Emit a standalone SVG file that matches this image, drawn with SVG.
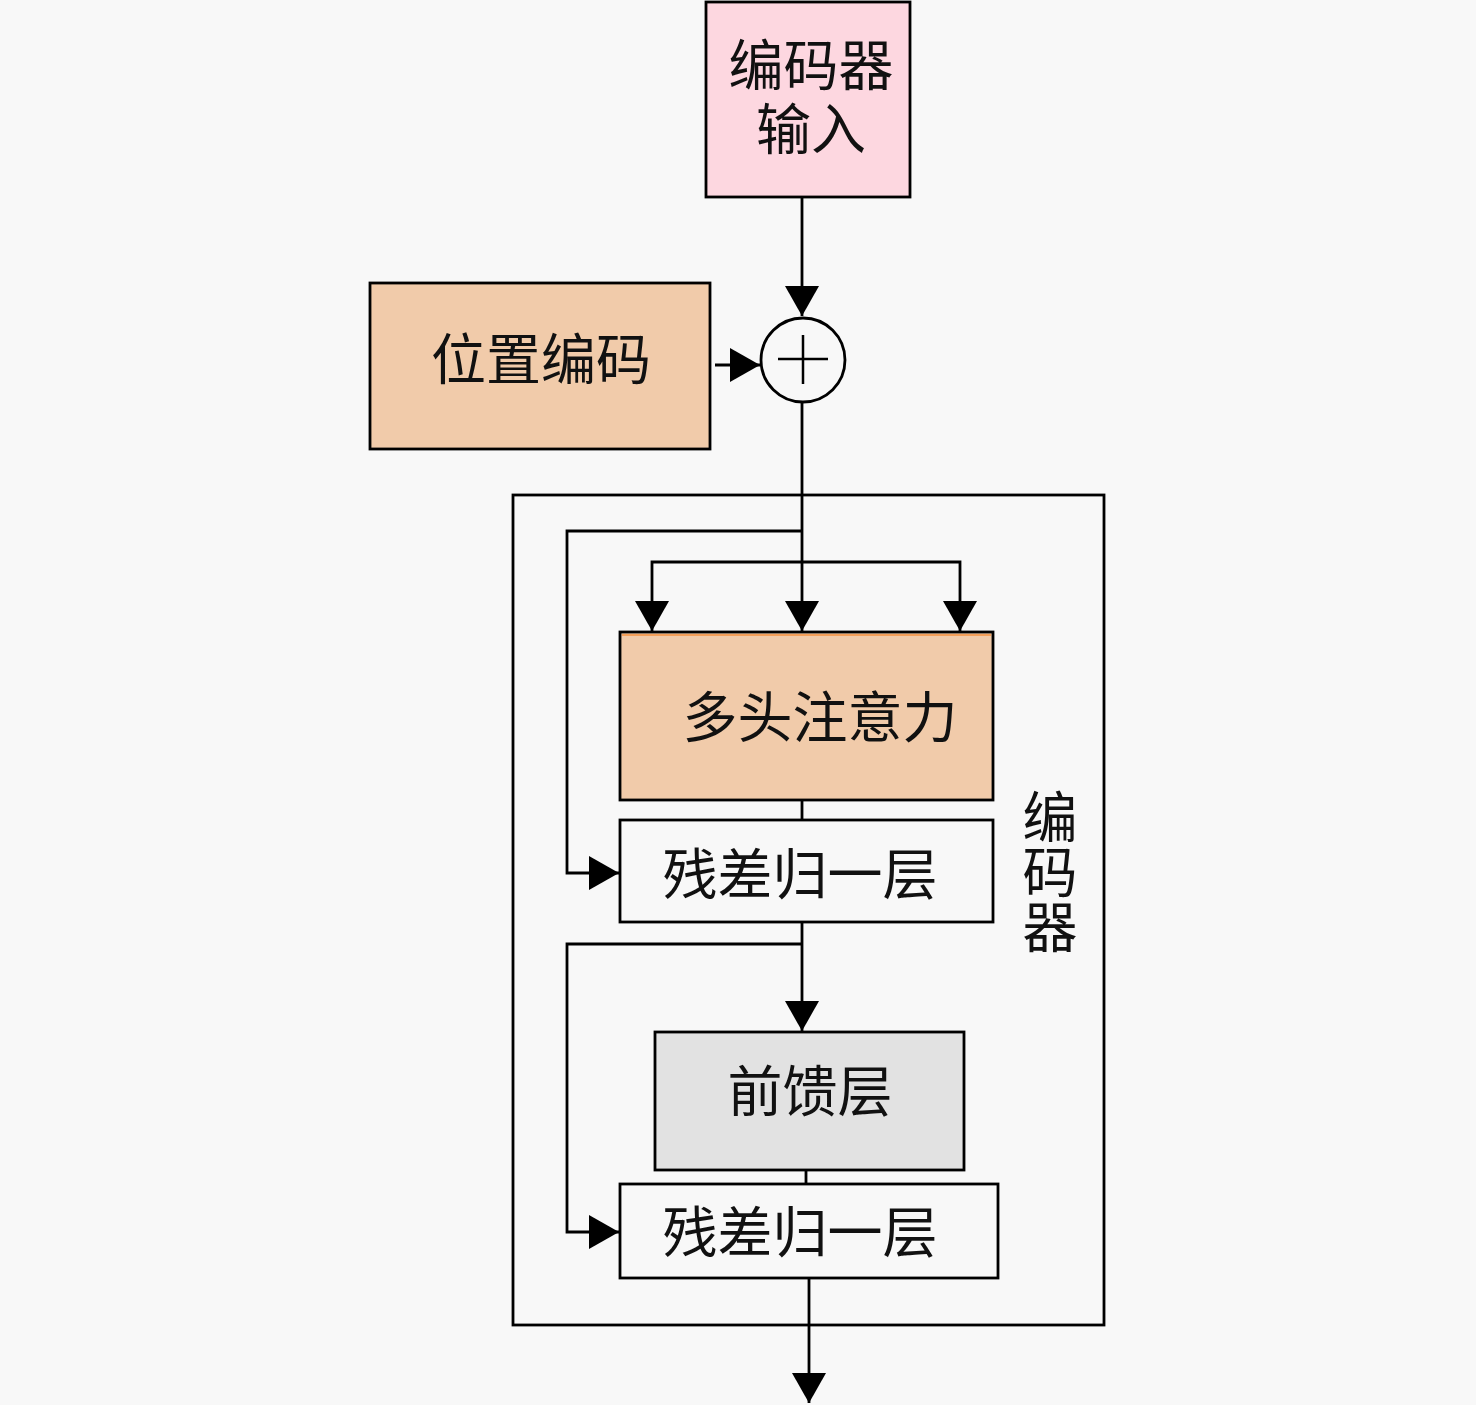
<svg xmlns="http://www.w3.org/2000/svg" width="1476" height="1405" viewBox="0 0 1476 1405">
<defs>
<marker id="ah" markerUnits="userSpaceOnUse" markerWidth="34" markerHeight="36" refX="30" refY="17" orient="auto">
<path d="M0,0 L30,17 L0,34 Z" fill="#000"/>
</marker>
<style>
.box{stroke:#000;stroke-width:2.8}
.t{font-family:"Liberation Serif","Noto Sans CJK SC",serif;font-size:55px;fill:#111;text-anchor:middle;dominant-baseline:central}
.c{fill:none;stroke:#000;stroke-width:2.8}
</style>
</defs>
<rect width="1476" height="1405" fill="#f8f8f8"/>
<g id="encoder">
<rect class="box" x="513" y="495" width="591" height="830" fill="#f8f8f8"/>
<text class="t" x="1050" y="818">编</text>
<text class="t" x="1050" y="873">码</text>
<text class="t" x="1050" y="928">器</text>
</g>
<g id="input">
<rect class="box" x="706" y="2" width="204" height="195" fill="#fdd7e0"/>
<text class="t" x="811" y="66">编码器</text>
<text class="t" x="811" y="130">输入</text>
</g>
<g id="posenc">
<rect class="box" x="370" y="283" width="340" height="166" fill="#f1cbaa"/>
<text class="t" x="541" y="360">位置编码</text>
</g>
<g id="add">
<circle cx="803" cy="360" r="42" fill="#f8f8f8" stroke="#000" stroke-width="2.8"/>
<path d="M778,359 H828 M803,335 V384" stroke="#000" stroke-width="2.5"/>
</g>
<g id="attn">
<rect class="box" x="620" y="632" width="373" height="168" fill="#f1cbaa"/>
<line x1="622" y1="635" x2="991" y2="635" stroke="#f5a05a" stroke-width="2"/>
<text class="t" x="820" y="718">多头注意力</text>
</g>
<g id="norm1">
<rect class="box" x="620" y="820" width="373" height="102" fill="#f8f8f8"/>
<text class="t" x="800" y="875">残差归一层</text>
</g>
<g id="ffn">
<rect class="box" x="655" y="1032" width="309" height="138" fill="#e2e2e2"/>
<text class="t" x="810" y="1092">前馈层</text>
</g>
<g id="norm2">
<rect class="box" x="620" y="1184" width="378" height="94" fill="#f8f8f8"/>
<text class="t" x="800" y="1233">残差归一层</text>
</g>
<g id="connectors">
<path class="c" d="M802,197 V316" marker-end="url(#ah)"/>
<path class="c" d="M715,365 H760" marker-end="url(#ah)"/>
<path class="c" d="M802,402 V631" marker-end="url(#ah)"/>
<path class="c" d="M802,531 H567 V873 H619" marker-end="url(#ah)"/>
<path class="c" d="M802,562 H652 V631" marker-end="url(#ah)"/>
<path class="c" d="M802,562 H960 V631" marker-end="url(#ah)"/>
<path class="c" d="M802,800 V820"/>
<path class="c" d="M802,922 V1031" marker-end="url(#ah)"/>
<path class="c" d="M802,944 H567 V1232 H619" marker-end="url(#ah)"/>
<path class="c" d="M806,1170 V1184"/>
<path class="c" d="M809,1278 V1403" marker-end="url(#ah)"/>
</g>
</svg>
